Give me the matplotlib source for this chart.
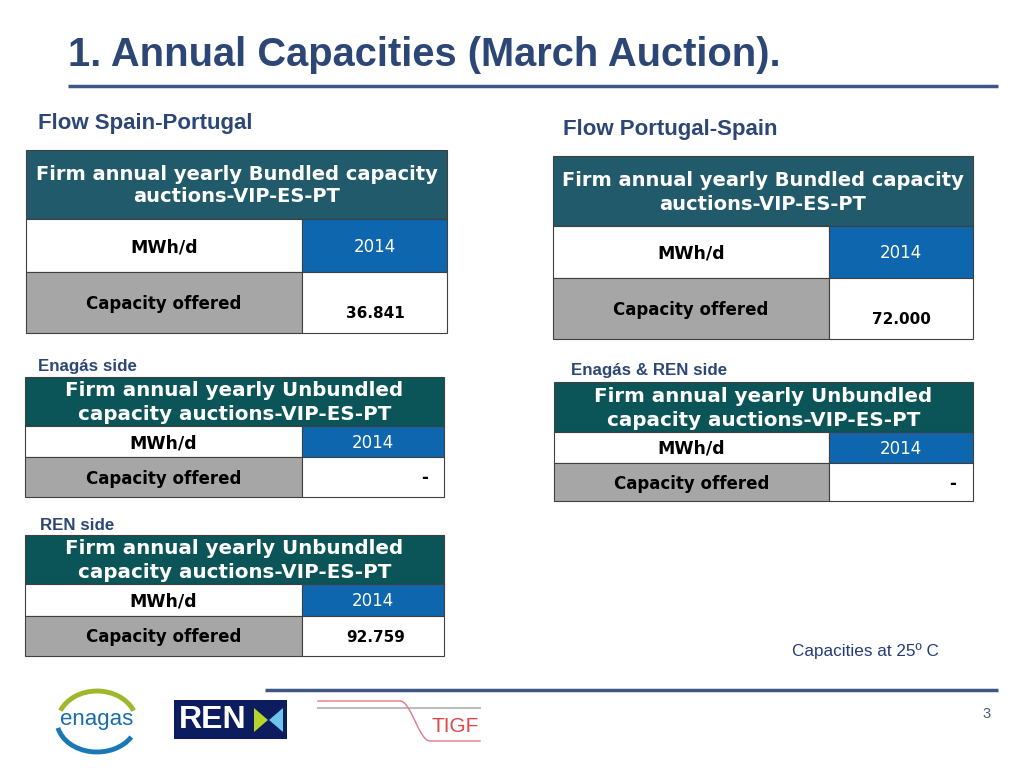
import matplotlib
matplotlib.use("Agg")
import matplotlib.pyplot as plt
from matplotlib.patches import Rectangle, Arc, Polygon
import numpy as np

# ---------------- data ----------------
title = "1. Annual Capacities (March Auction)."
flow_titles = ["Flow Spain-Portugal", "Flow Portugal-Spain"]
side_labels = ["Enagás side", "REN side", "Enagás & REN side"]
header_bundled = ["Firm annual yearly Bundled capacity", "auctions-VIP-ES-PT"]
header_unbundled = ["Firm annual yearly Unbundled", "capacity auctions-VIP-ES-PT"]
unit_label = "MWh/d"
year_label = "2014"
row_label = "Capacity offered"
cap_bundled_es_pt = "36.841"
cap_bundled_pt_es = "72.000"
cap_unbundled_enagas = "-"
cap_unbundled_ren = "92.759"
cap_unbundled_pt_es = "-"
note = "Capacities at 25º C"
page_number = "3"

# ---------------- style ----------------
NAVY = "#2C4676"
RULE = "#3D5684"
TEAL_B = "#215A6A"
TEAL_U = "#0B5457"
BLUE = "#0E66AE"
GRAY = "#A6A6A6"
EDGE = "#404040"
NARROW = ["Liberation Sans Narrow", "Liberation Sans", "DejaVu Sans"]
VERD = ["DejaVu Sans"]

fig = plt.figure(figsize=(10.24, 7.68), dpi=100)
ax = fig.add_axes([0, 0, 1, 1])
ax.set_xlim(0, 1024)
ax.set_ylim(768, 0)
ax.axis("off")

# title and rules
ax.text(68, 55, title, fontsize=28.7, fontweight="bold", color=NAVY,
        family=NARROW, va="center", ha="left")
ax.plot([68, 998], [86, 86], color=RULE, lw=2.5, solid_capstyle="butt")
ax.plot([265, 998], [690, 690], color=RULE, lw=2.5, solid_capstyle="butt")

ax.text(38, 124, flow_titles[0], fontsize=16, fontweight="bold", color=NAVY,
        family=NARROW, va="center")
ax.text(563, 129, flow_titles[1], fontsize=16, fontweight="bold", color=NAVY,
        family=NARROW, va="center")


def table(x0, x1, xs, ys, header, hcolor, hsize, hlines, value, value_pos,
          offs=(0, 0)):
    # ys: top, header bottom, row2 bottom, row3 bottom
    y0, y1, y2, y3 = ys
    ax.add_patch(Rectangle((x0, y0), x1 - x0, y1 - y0, facecolor=hcolor,
                           edgecolor=EDGE, lw=0.8))
    ax.add_patch(Rectangle((x0, y1), xs - x0, y2 - y1, facecolor="white",
                           edgecolor=EDGE, lw=0.8))
    ax.add_patch(Rectangle((xs, y1), x1 - xs, y2 - y1, facecolor=BLUE,
                           edgecolor=EDGE, lw=0.8))
    ax.add_patch(Rectangle((x0, y2), xs - x0, y3 - y2, facecolor=GRAY,
                           edgecolor=EDGE, lw=0.8))
    ax.add_patch(Rectangle((xs, y2), x1 - xs, y3 - y2, facecolor="white",
                           edgecolor=EDGE, lw=0.8))
    hc = (x0 + x1) / 2
    for line, yl in zip(header, hlines):
        ax.text(hc, yl, line, fontsize=hsize, fontweight="bold",
                color="white", family=VERD, ha="center", va="center")
    lc = (x0 + xs) / 2
    rc = (xs + x1) / 2
    ym2 = (y1 + y2) / 2 + offs[0]
    ax.text(lc, ym2, unit_label, fontsize=12.5, fontweight="bold", color="black",
            family=VERD, ha="center", va="center")
    ax.text(rc, ym2, year_label, fontsize=12, color="white",
            family=VERD, ha="center", va="center")
    ym3 = (y2 + y3) / 2 + offs[1]
    ax.text(lc, ym3, row_label, fontsize=12, fontweight="bold", color="black",
            family=VERD, ha="center", va="center")
    ax.text(value_pos[0], value_pos[1], value,
            fontsize=11 if value != "-" else 12,
            fontweight="bold", color="black", family=VERD, ha="center",
            va="center")


# Bundled tables
table(26, 447, 302, (150, 219, 272, 333), header_bundled, TEAL_B, 14,
      (174, 197), cap_bundled_es_pt, (375, 313), offs=(1.5, 1.5))
table(553, 973, 829, (156, 226, 278, 339), header_bundled, TEAL_B, 14,
      (180, 204), cap_bundled_pt_es, (901, 319), offs=(1, 1.5))

# Unbundled tables
ax.text(38, 366, side_labels[0], fontsize=12.2, fontweight="bold", color=NAVY,
        family=NARROW, va="center")
table(25, 444, 302, (377, 426, 457, 497), header_unbundled, TEAL_U, 14.3,
      (390, 414), cap_unbundled_enagas, (425, 478), offs=(1.5, 2))

ax.text(40, 526, side_labels[1], fontsize=12.2, fontweight="bold", color=NAVY,
        family=NARROW, va="center")
table(25, 444, 302, (535, 584, 616, 656), header_unbundled, TEAL_U, 14.3,
      (549, 573), cap_unbundled_ren, (376, 637), offs=(1, 1))

ax.text(571, 371, side_labels[2], fontsize=12.2, fontweight="bold", color=NAVY,
        family=NARROW, va="center")
table(554, 973, 829, (382, 432, 463, 501), header_unbundled, TEAL_U, 14.3,
      (396, 421), cap_unbundled_pt_es, (953, 484), offs=(1, 2))

ax.text(792, 651, note, fontsize=12.3, color="#243B7A", family=NARROW,
        va="center", ha="left")
ax.text(987, 714, page_number, fontsize=10.5, color="#4A5A78", family=NARROW,
        va="center", ha="center")

# ---- logos (approximate drawings) ----
# enagas (y axis inverted: angles mirror)
ax.add_patch(Arc((97, 724), 80, 66, theta1=200, theta2=340, color="#9DB82B",
                 lw=3.5))
ax.add_patch(Arc((97, 721), 80, 62, theta1=25, theta2=170, color="#1A79B5",
                 lw=3.5))
ax.text(97, 719, "enagas", fontsize=16, color="#1A6EA8", family=NARROW,
        ha="center", va="center")
# REN
ax.add_patch(Rectangle((174, 700), 113, 39, facecolor="#0B1C5F",
                       edgecolor="none"))
ax.text(179, 720, "REN", fontsize=23, fontweight="bold", color="white",
        family=["Liberation Sans", "DejaVu Sans"], ha="left", va="center")
ax.add_patch(Polygon([[254, 708], [254, 732], [268, 720]], closed=True,
                     facecolor="#B6D62B", edgecolor="none"))
ax.add_patch(Polygon([[283, 708], [283, 732], [269, 720]], closed=True,
                     facecolor="#6FC4EC", edgecolor="none"))
# TIGF
ax.plot([318, 480], [708, 708], color="#BDBDBD", lw=1.5)
t = np.linspace(0, 1, 50)
xs_c = np.concatenate([[318, 400], 400 + 30 * t, [430, 480]])
ys_c = np.concatenate([[701, 701], 701 + 40 * (0.5 - 0.5 * np.cos(np.pi * t)),
                       [741, 741]])
ax.plot(xs_c, ys_c, color="#E07A85", lw=1)
ax.text(432, 727, "TIGF", fontsize=15, color="#E0464A",
        family=["Liberation Sans", "DejaVu Sans"], ha="left", va="center")

fig.savefig("out.png", dpi=100)
